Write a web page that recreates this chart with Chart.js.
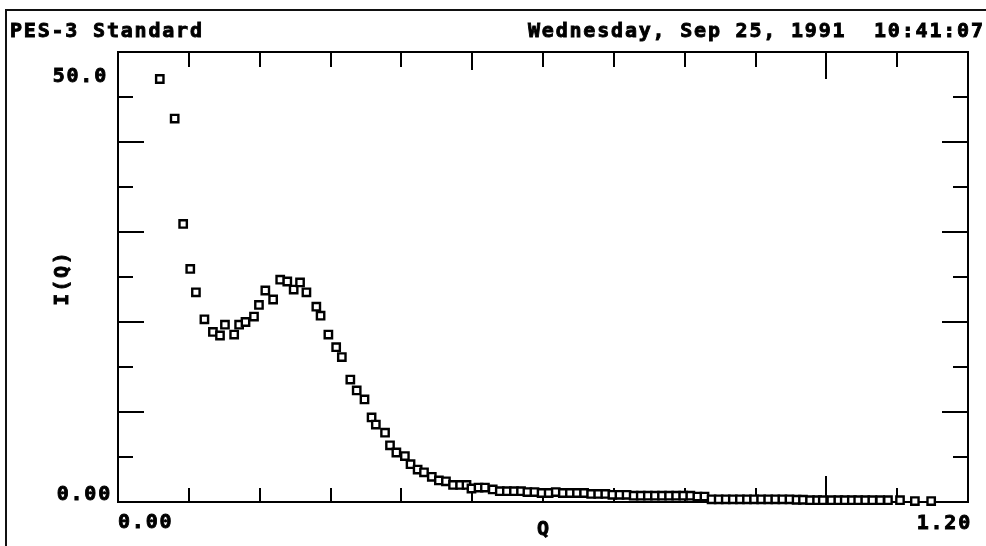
<!DOCTYPE html>
<html>
<head>
<meta charset="utf-8">
<script src="https://cdn.jsdelivr.net/npm/chart.js@4"></script>
<style>
html,body{margin:0;padding:0;background:#fff;}
#wrap{width:986px;height:546px;position:relative;}
</style>
</head>
<body>
<div id="wrap"><canvas id="c" width="986" height="546"></canvas></div>
<script>
// ---- data ----
const qValues = [0.059,0.080,0.092,0.102,0.110,0.122,0.134,0.144,0.151,0.164,0.171,0.180,0.192,0.199,0.208,0.219,0.229,0.239,0.248,0.257,0.266,0.280,0.286,0.297,0.308,0.316,0.328,0.337,0.348,0.358,0.364,0.377,0.384,0.393,0.405,0.413,0.423,0.432,0.443,0.453,0.463,0.473,0.483,0.492,0.499,0.509,0.518,0.529,0.539,0.549,0.559,0.569,0.578,0.588,0.598,0.608,0.618,0.628,0.638,0.648,0.658,0.668,0.678,0.688,0.698,0.708,0.718,0.728,0.738,0.748,0.758,0.768,0.778,0.788,0.798,0.808,0.818,0.828,0.838,0.848,0.858,0.868,0.878,0.888,0.898,0.908,0.918,0.928,0.938,0.948,0.958,0.967,0.977,0.987,0.995,1.007,1.017,1.026,1.036,1.045,1.055,1.065,1.076,1.087,1.104,1.125,1.148];
const iValues = [47.0,42.6,30.9,25.9,23.3,20.3,18.9,18.5,19.7,18.6,19.7,20.0,20.6,21.9,23.5,22.5,24.7,24.5,23.6,24.4,23.3,21.7,20.7,18.6,17.2,16.1,13.6,12.4,11.4,9.4,8.6,7.7,6.3,5.5,5.1,4.2,3.6,3.3,2.8,2.4,2.3,1.9,1.9,1.9,1.5,1.6,1.6,1.4,1.2,1.2,1.2,1.2,1.1,1.1,1.0,1.0,1.1,1.0,1.0,1.0,1.0,0.9,0.9,0.9,0.8,0.8,0.8,0.7,0.7,0.7,0.7,0.7,0.7,0.7,0.7,0.7,0.6,0.6,0.3,0.3,0.3,0.3,0.3,0.3,0.3,0.3,0.3,0.3,0.3,0.3,0.25,0.25,0.2,0.2,0.2,0.2,0.2,0.2,0.2,0.2,0.2,0.2,0.2,0.2,0.2,0.1,0.1];
const xRange = [0, 1.2];
const yRange = [0, 50];
const xTickStep = 0.1;
const yTickStep = 5;
const xTickLabels = ['0.00', '1.20'];
const yTickLabels = ['0.00', '50.0'];
const titleLeft = 'PES-3 Standard';
const titleRight = 'Wednesday, Sep 25, 1991  10:41:07';
const xTitle = 'Q';
const yTitle = 'I(Q)';

const points = qValues.map((q, i) => ({x: q, y: iValues[i]}));

const FONT = 'bold 20px "DejaVu Sans Mono", monospace';
const LS = '1.8px';

function boldText(ctx, s, x, y) {
  ctx.fillText(s, x, y);
  ctx.strokeText(s, x, y);
}

const deco = {
  id: 'deco',
  beforeDraw(chart) {
    const ctx = chart.ctx;
    ctx.save();
    ctx.fillStyle = '#fff';
    ctx.fillRect(0, 0, chart.width, chart.height);
    ctx.strokeStyle = '#111';
    ctx.lineWidth = 2;
    ctx.beginPath();
    ctx.moveTo(6, 560); ctx.lineTo(6, 10); ctx.lineTo(990, 10);
    ctx.stroke();
    ctx.restore();
  },
  beforeDatasetsDraw(chart) {
    const ctx = chart.ctx;
    const a = chart.chartArea;
    const xs = chart.scales.x, ys = chart.scales.y;
    ctx.save();
    ctx.strokeStyle = '#000';
    ctx.lineWidth = 2;
    ctx.strokeRect(a.left, a.top, a.right - a.left, a.bottom - a.top);
    const nx = Math.round((xRange[1] - xRange[0]) / xTickStep);
    for (let i = 1; i < nx; i++) {
      const px = Math.round(xs.getPixelForValue(xRange[0] + i * xTickStep));
      let lenB = 14, lenT = 15;
      if (i % 10 === 0) { lenB = 26; lenT = 27; }
      else if (i % 5 === 0) { lenB = 18; lenT = 18; }
      ctx.beginPath();
      ctx.moveTo(px, a.bottom); ctx.lineTo(px, a.bottom - lenB);
      ctx.moveTo(px, a.top); ctx.lineTo(px, a.top + lenT);
      ctx.stroke();
    }
    const ny = Math.round((yRange[1] - yRange[0]) / yTickStep);
    for (let j = 1; j < ny; j++) {
      const py = Math.round(ys.getPixelForValue(yRange[0] + j * yTickStep));
      const len = (j % 2 === 0) ? 26 : 15;
      ctx.beginPath();
      ctx.moveTo(a.left, py); ctx.lineTo(a.left + len, py);
      ctx.moveTo(a.right, py); ctx.lineTo(a.right - len, py);
      ctx.stroke();
    }
    ctx.restore();
  },
  afterDraw(chart) {
    const ctx = chart.ctx;
    const a = chart.chartArea;
    ctx.save();
    ctx.fillStyle = '#000';
    ctx.strokeStyle = '#000';
    ctx.lineWidth = 0.9;
    ctx.font = FONT;
    ctx.letterSpacing = LS;
    ctx.textBaseline = 'alphabetic';
    ctx.textAlign = 'left';
    boldText(ctx, titleLeft, 10, 37);
    boldText(ctx, titleRight, 528, 37);
    ctx.textAlign = 'right';
    boldText(ctx, yTickLabels[1], a.left - 10, a.top + 30);
    boldText(ctx, yTickLabels[0], a.left - 6, a.bottom - 2);
    ctx.textAlign = 'left';
    boldText(ctx, xTickLabels[0], a.left, a.bottom + 26);
    ctx.textAlign = 'right';
    boldText(ctx, xTickLabels[1], a.right + 4, a.bottom + 27);
    ctx.textAlign = 'center';
    boldText(ctx, xTitle, (a.left + a.right) / 2 + 1, a.bottom + 33);
    ctx.save();
    ctx.translate(63, (a.top + a.bottom) / 2 + 1);
    ctx.rotate(-Math.PI / 2);
    ctx.textAlign = 'center';
    ctx.textBaseline = 'middle';
    boldText(ctx, yTitle, 0, 0);
    ctx.restore();
    ctx.restore();
  }
};

new Chart(document.getElementById('c'), {
  type: 'scatter',
  data: {
    datasets: [{
      data: points,
      pointStyle: 'rect',
      pointRadius: 5.2,
      pointBorderWidth: 2.4,
      pointBackgroundColor: '#fff',
      pointBorderColor: '#000',
      showLine: false,
      clip: false
    }]
  },
  options: {
    responsive: false,
    animation: false,
    devicePixelRatio: 1,
    layout: { padding: { left: 118, right: 18, top: 52, bottom: 44 } },
    plugins: { legend: { display: false }, tooltip: { enabled: false } },
    events: [],
    scales: {
      x: { type: 'linear', min: xRange[0], max: xRange[1], display: false },
      y: { type: 'linear', min: yRange[0], max: yRange[1], display: false }
    }
  },
  plugins: [deco]
});
</script>
</body>
</html>
